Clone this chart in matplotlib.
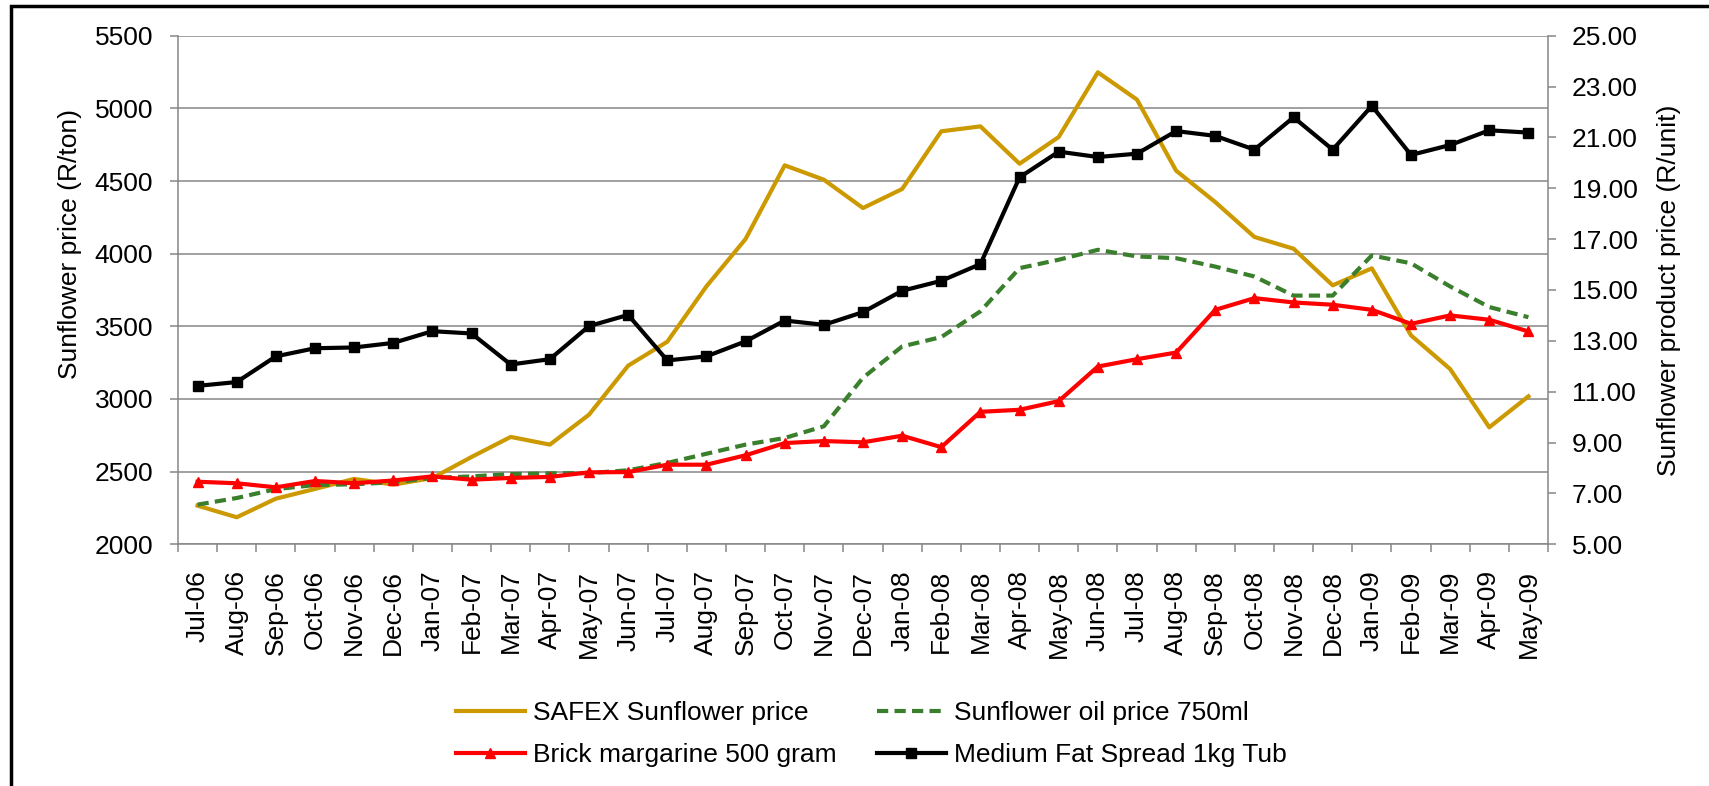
import matplotlib.pyplot as plt
from matplotlib.patches import Rectangle

# --- data ---
months = ["Jul-06", "Aug-06", "Sep-06", "Oct-06", "Nov-06", "Dec-06",
          "Jan-07", "Feb-07", "Mar-07", "Apr-07", "May-07", "Jun-07",
          "Jul-07", "Aug-07", "Sep-07", "Oct-07", "Nov-07", "Dec-07",
          "Jan-08", "Feb-08", "Mar-08", "Apr-08", "May-08", "Jun-08",
          "Jul-08", "Aug-08", "Sep-08", "Oct-08", "Nov-08", "Dec-08",
          "Jan-09", "Feb-09", "Mar-09", "Apr-09", "May-09"]

# left axis (R/ton)
safex_price = [2266, 2186, 2314, 2381, 2450, 2411, 2456, 2601, 2739, 2686,
               2892, 3229, 3394, 3775, 4101, 4608, 4509, 4314, 4445, 4842,
               4876, 4619, 4803, 5248, 5060, 4571, 4355, 4115, 4034, 3782,
               3899, 3438, 3206, 2805, 3018]

# right axis (R/unit)
oil_750ml = [6.56, 6.82, 7.17, 7.33, 7.36, 7.44, 7.61, 7.67, 7.76, 7.79,
             7.80, 7.91, 8.20, 8.56, 8.92, 9.18, 9.64, 11.55, 12.78, 13.15,
             14.16, 15.86, 16.19, 16.58, 16.32, 16.25, 15.92, 15.53, 14.78, 14.78,
             16.36, 16.05, 15.14, 14.33, 13.93]
brick_margarine = [7.46, 7.40, 7.24, 7.49, 7.40, 7.51, 7.67, 7.54, 7.61, 7.65,
                   7.83, 7.84, 8.13, 8.13, 8.50, 8.98, 9.06, 9.01, 9.27, 8.82,
                   10.21, 10.29, 10.63, 11.99, 12.28, 12.54, 14.22, 14.68, 14.51, 14.42,
                   14.22, 13.67, 14.00, 13.83, 13.37]
medium_fat_spread = [11.23, 11.38, 12.39, 12.71, 12.74, 12.92, 13.38, 13.29, 12.07, 12.28,
                     13.58, 14.02, 12.23, 12.39, 12.98, 13.80, 13.63, 14.13, 14.97, 15.36,
                     16.02, 19.43, 20.44, 20.23, 20.36, 21.25, 21.06, 20.52, 21.79, 20.52,
                     22.24, 20.31, 20.70, 21.28, 21.19]

plt.rcParams['font.family'] = ['Liberation Sans', 'DejaVu Sans']
GREY = '#868686'
FS = 19

fig = plt.figure(figsize=(17.09, 7.86), dpi=100)
ax = fig.add_axes([0.10415, 0.30751, 0.80164, 0.64707])
ax2 = ax.twinx()

x = list(range(len(months)))

# SAFEX on the primary axis, product prices on the secondary axis
l_safex, = ax.plot(x, safex_price, color='#CC9900', lw=3.0, zorder=3)
l_oil, = ax2.plot(x, oil_750ml, color='#3A7F2C', lw=3.0, dashes=(2.7, 1.5))
l_brick, = ax2.plot(x, brick_margarine, color='#FF0000', lw=3.0,
                    marker='^', markersize=7)
l_spread, = ax2.plot(x, medium_fat_spread, color='black', lw=3.0,
                     marker='s', markersize=7.5)

# axes limits / ticks
ax.set_xlim(-0.5, len(months) - 0.5)
ax.set_ylim(2000, 5500)
ax.set_yticks(range(2000, 5501, 500))
ax2.set_ylim(5, 25)
ax2.set_yticks([5 + 2 * k for k in range(11)])
ax2.set_yticklabels([f"{5 + 2 * k:.2f}" for k in range(11)])

ax.set_xticks(x)
ax.set_xticklabels(months, rotation=90)
ax.set_xticks([i - 0.5 for i in range(len(months) + 1)], minor=True)
ax.tick_params(axis='x', which='major', length=0, pad=18.5, labelsize=FS)
ax.tick_params(axis='x', which='minor', length=5.8, width=1.1, color=GREY)
ax.tick_params(axis='y', length=5.8, width=1.1, color=GREY, pad=12, labelsize=FS)
ax2.tick_params(axis='y', length=5.8, width=1.1, color=GREY, pad=11.5, labelsize=FS)

ax.yaxis.grid(True, color=GREY, lw=1.1)
ax.set_axisbelow(True)

for a in (ax, ax2):
    a.spines['top'].set_visible(False)
    for s in a.spines.values():
        s.set_color(GREY)
        s.set_linewidth(1.1)
ax.spines['right'].set_visible(False)
ax2.spines['left'].set_visible(False)
ax2.spines['bottom'].set_visible(False)

# left title sits above the axis centre in the original
ax.set_ylabel("Sunflower price (R/ton)", fontsize=FS, labelpad=9, y=0.59)
ax2.set_ylabel("Sunflower product price (R/unit)", fontsize=FS, labelpad=14)

# legend: two columns, no frame
fig.legend([l_safex, l_brick, l_oil, l_spread],
           ["SAFEX Sunflower price", "Brick margarine 500 gram",
            "Sunflower oil price 750ml", "Medium Fat Spread 1kg Tub"],
           ncol=2, loc='upper left', bbox_to_anchor=(456 / 1709, 1 - 701 / 786),
           frameon=False, fontsize=FS, handlelength=2.6, handletextpad=0.3,
           columnspacing=1.55, labelspacing=0.7, borderpad=0, borderaxespad=0)

# outer border (chart area frame running off the right and bottom)
fig.patches.append(Rectangle((11 / 1709, -0.2), 1.5, 1.2 - 6 / 786,
                             transform=fig.transFigure, fill=False,
                             edgecolor='black', lw=2.5))

fig.savefig("out.png", dpi=100)
